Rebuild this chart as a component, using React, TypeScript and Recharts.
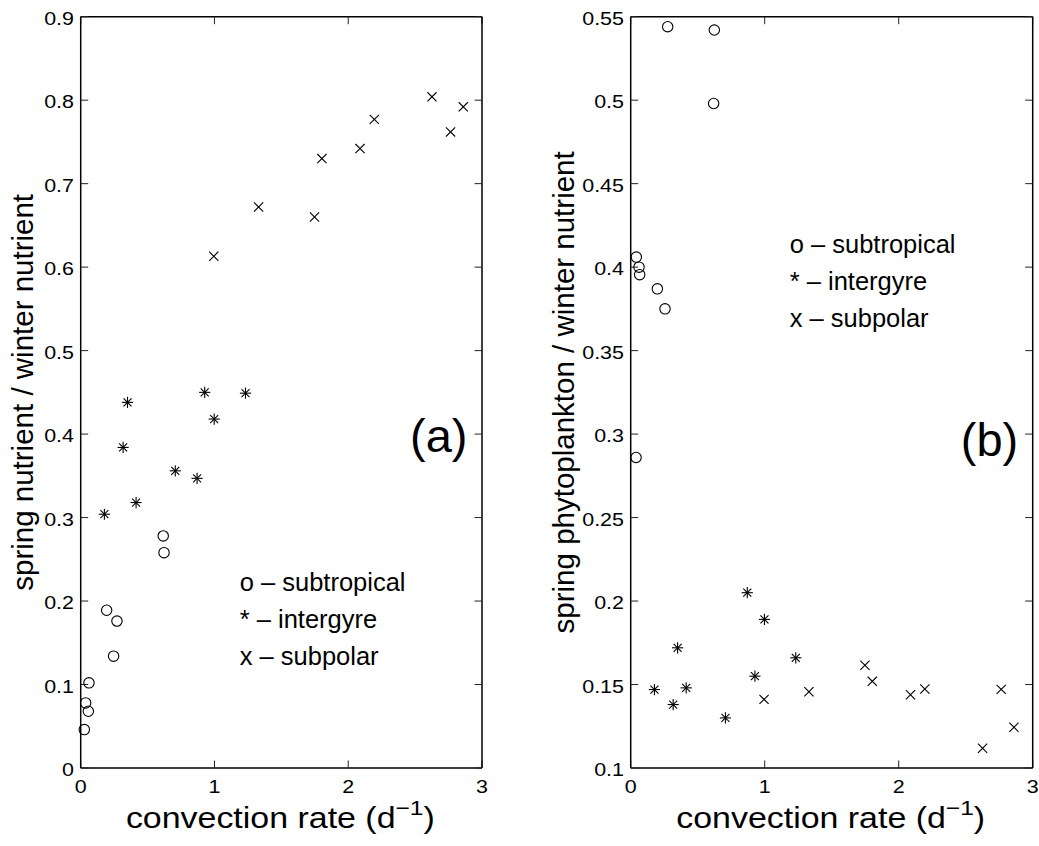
import React from 'react';
import { ScatterChart, Scatter, XAxis, YAxis } from 'recharts';

// ---------- data ----------
const xTicks = [0, 1, 2, 3];
const yTicksA = [0, 0.1, 0.2, 0.3, 0.4, 0.5, 0.6, 0.7, 0.8, 0.9];
const yTicksB = [0.1, 0.15, 0.2, 0.25, 0.3, 0.35, 0.4, 0.45, 0.5, 0.55];
const xDomain: [number, number] = [0, 3];
const yDomainA: [number, number] = [0, 0.9];
const yDomainB: [number, number] = [0.1, 0.55];

// panel (a): spring nutrient / winter nutrient
const subtropicalAx = [0.027, 0.037, 0.057, 0.062, 0.194, 0.271, 0.246, 0.617, 0.623];
const subtropicalAy = [0.046, 0.078, 0.068, 0.102, 0.189, 0.176, 0.134, 0.278, 0.258];
const intergyreAx = [0.177, 0.317, 0.35, 0.414, 0.707, 0.87, 0.927, 0.998, 1.232];
const intergyreAy = [0.304, 0.384, 0.438, 0.318, 0.356, 0.347, 0.45, 0.418, 0.449];
const subpolarAx = [0.995, 1.33, 1.748, 1.803, 2.088, 2.195, 2.626, 2.765, 2.86];
const subpolarAy = [0.613, 0.672, 0.66, 0.73, 0.742, 0.777, 0.804, 0.762, 0.792];

// panel (b): spring phytoplankton / winter nutrient
const subtropicalBx = [0.276, 0.624, 0.619, 0.042, 0.062, 0.067, 0.199, 0.256, 0.04];
const subtropicalBy = [0.544, 0.542, 0.498, 0.406, 0.4, 0.3955, 0.387, 0.375, 0.286];
const intergyreBx = [0.177, 0.317, 0.35, 0.414, 0.707, 0.87, 0.927, 0.998, 1.232];
const intergyreBy = [0.147, 0.138, 0.172, 0.148, 0.13, 0.205, 0.155, 0.189, 0.166];
const subpolarBx = [1.33, 0.995, 1.748, 1.803, 2.088, 2.195, 2.626, 2.765, 2.86];
const subpolarBy = [0.1457, 0.1411, 0.1615, 0.1519, 0.1439, 0.1473, 0.1118, 0.1471, 0.1244];

const legendLines = ['o \u2013 subtropical', '* \u2013 intergyre', 'x \u2013 subpolar'];
const xLabelMain = 'convection rate (d';
const xLabelSup = '\u22121';
const yLabelA = 'spring nutrient / winter nutrient';
const yLabelB = 'spring phytoplankton / winter nutrient';

// ---------- layout ----------
const W = 1039;
const H = 846;
const PLOT_TOP = 16.7;
const PLOT_BOTTOM = 768;
const A_LEFT = 80.7;
const A_RIGHT = 482;
const B_LEFT = 630.7;
const B_RIGHT = 1032.7;
const FONT = '"Liberation Sans", Arial, Helvetica, sans-serif';
const TICK = 7.5;

const toPoints = (xs: number[], ys: number[]) => xs.map((x, i) => ({ x, y: ys[i] }));

// ---------- marker shapes ----------
const CircleMark = (p: any) => (
  <circle cx={p.cx} cy={p.cy} r={5.2} fill="none" stroke="#000" strokeWidth={1.1} />
);
const StarMark = (p: any) => {
  const r = 5.6;
  const d = 4.0;
  return (
    <g stroke="#000" strokeWidth={1.1}>
      <line x1={p.cx - r} y1={p.cy} x2={p.cx + r} y2={p.cy} />
      <line x1={p.cx} y1={p.cy - r} x2={p.cx} y2={p.cy + r} />
      <line x1={p.cx - d} y1={p.cy - d} x2={p.cx + d} y2={p.cy + d} />
      <line x1={p.cx - d} y1={p.cy + d} x2={p.cx + d} y2={p.cy - d} />
    </g>
  );
};
const CrossMark = (p: any) => {
  const d = 4.6;
  return (
    <g stroke="#000" strokeWidth={1.1}>
      <line x1={p.cx - d} y1={p.cy - d} x2={p.cx + d} y2={p.cy + d} />
      <line x1={p.cx - d} y1={p.cy + d} x2={p.cx + d} y2={p.cy - d} />
    </g>
  );
};

// ---------- ticks ----------
const XTick = (p: any) => (
  <text
    transform={`translate(${p.x},${p.y + TICK + 24.5}) scale(1.13,1)`}
    textAnchor="middle"
    fontFamily={FONT}
    fontSize={19}
    fill="#000"
  >
    {String(p.payload.value)}
  </text>
);
const YTick = (p: any) => (
  <text
    transform={`translate(${p.x - TICK - 6.7},${p.y + 8.3}) scale(1.13,1)`}
    textAnchor="end"
    fontFamily={FONT}
    fontSize={19}
    fill="#000"
  >
    {String(p.payload.value)}
  </text>
);
const NoTick = () => <g />;

const axisLine = { stroke: '#000', strokeWidth: 1.5 };
const tickLine = { stroke: '#222', strokeWidth: 1 };

type PanelProps = {
  left: number;
  right: number;
  yDomain: [number, number];
  yTicks: number[];
  sub: { x: number; y: number }[];
  inter: { x: number; y: number }[];
  pol: { x: number; y: number }[];
};

function Panel({ left, right, yDomain, yTicks, sub, inter, pol }: PanelProps) {
  return (
    <div style={{ position: 'absolute', left: 0, top: 0 }}>
      <ScatterChart
        width={W}
        height={H}
        margin={{ top: PLOT_TOP, right: W - right, bottom: H - PLOT_BOTTOM - 1, left: left - 1 }}
      >
        <XAxis
          xAxisId="b"
          dataKey="x"
          type="number"
          orientation="bottom"
          domain={xDomain}
          ticks={xTicks}
          height={1}
          tickSize={-TICK}
          tickMargin={0}
          tick={<XTick />}
          axisLine={axisLine}
          tickLine={tickLine}
        />
        <XAxis
          xAxisId="t"
          dataKey="x"
          type="number"
          orientation="top"
          mirror
          domain={xDomain}
          ticks={xTicks}
          height={1}
          tickSize={TICK}
          tick={<NoTick />}
          axisLine={axisLine}
          tickLine={tickLine}
        />
        <YAxis
          yAxisId="l"
          dataKey="y"
          type="number"
          orientation="left"
          domain={yDomain}
          ticks={yTicks}
          width={1}
          tickSize={-TICK}
          tickMargin={0}
          tick={<YTick />}
          axisLine={axisLine}
          tickLine={tickLine}
        />
        <YAxis
          yAxisId="r"
          dataKey="y"
          type="number"
          orientation="right"
          mirror
          domain={yDomain}
          ticks={yTicks}
          width={1}
          tickSize={TICK}
          tick={<NoTick />}
          axisLine={axisLine}
          tickLine={tickLine}
        />
        <Scatter xAxisId="b" yAxisId="l" data={sub} shape={CircleMark} isAnimationActive={false} />
        <Scatter xAxisId="b" yAxisId="l" data={inter} shape={StarMark} isAnimationActive={false} />
        <Scatter xAxisId="b" yAxisId="l" data={pol} shape={CrossMark} isAnimationActive={false} />
        <Scatter xAxisId="t" yAxisId="r" data={pol} shape={NoTick} isAnimationActive={false} />
      </ScatterChart>
    </div>
  );
}

function Annotations() {
  const panels = [
    { left: A_LEFT, right: A_RIGHT, ylabel: yLabelA, ydist: 47.4, tag: '(a)', tagY: 452 },
    { left: B_LEFT, right: B_RIGHT, ylabel: yLabelB, ydist: 56.7, tag: '(b)', tagY: 456 },
  ];
  const midY = (PLOT_TOP + PLOT_BOTTOM) / 2;
  return (
    <svg
      width={W}
      height={H}
      style={{ position: 'absolute', left: 0, top: 0, pointerEvents: 'none' }}
      fontFamily={FONT}
    >
      {panels.map((p, k) => {
        const cx = (p.left + p.right) / 2 - 1;
        return (
          <g key={k}>
            <g transform={`translate(${cx},${PLOT_BOTTOM + 60.3}) scale(1.17,1)`}>
              <text textAnchor="middle" fontSize={29} fill="#000">
                {xLabelMain}
                <tspan fontSize={21} dy={-13}>{xLabelSup}</tspan>
                <tspan fontSize={29} dy={13}>)</tspan>
              </text>
            </g>
            <text
              transform={`translate(${p.left - p.ydist},${midY}) rotate(-90)`}
              textAnchor="middle"
              fontSize={29.5}
              fill="#000"
            >
              {p.ylabel}
            </text>
            {legendLines.map((t, i) => (
              <text
                key={i}
                x={p.left + 159}
                y={(k === 0 ? 590.7 : 252.7) + i * 37.2}
                fontSize={25.5}
                fill="#000"
              >
                {t}
              </text>
            ))}
            <text x={p.right - 14.5} y={p.tagY} textAnchor="end" fontSize={47} fill="#000">
              {p.tag}
            </text>
          </g>
        );
      })}
    </svg>
  );
}

export default function App() {
  return (
    <div style={{ position: 'absolute', left: 0, top: 0, width: W, height: H, background: '#fff' }}>
      <Panel
        left={A_LEFT}
        right={A_RIGHT}
        yDomain={yDomainA}
        yTicks={yTicksA}
        sub={toPoints(subtropicalAx, subtropicalAy)}
        inter={toPoints(intergyreAx, intergyreAy)}
        pol={toPoints(subpolarAx, subpolarAy)}
      />
      <Panel
        left={B_LEFT}
        right={B_RIGHT}
        yDomain={yDomainB}
        yTicks={yTicksB}
        sub={toPoints(subtropicalBx, subtropicalBy)}
        inter={toPoints(intergyreBx, intergyreBy)}
        pol={toPoints(subpolarBx, subpolarBy)}
      />
      <Annotations />
    </div>
  );
}
